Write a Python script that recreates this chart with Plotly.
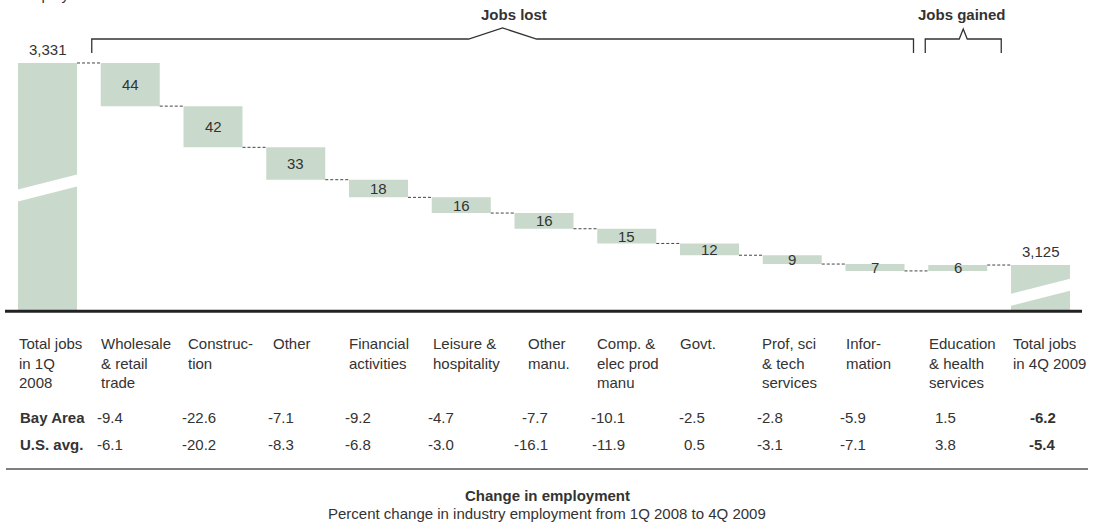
import plotly.graph_objects as go

# ---------------- data ----------------
categories = [
    "Total jobs<br>in 1Q<br>2008", "Wholesale<br>& retail<br>trade", "Construc-<br>tion", "Other",
    "Financial<br>activities", "Leisure &<br>hospitality", "Other<br>manu.", "Comp. &<br>elec prod<br>manu",
    "Govt.", "Prof, sci<br>& tech<br>services", "Infor-<br>mation", "Education<br>& health<br>services",
    "Total jobs<br>in 4Q 2009",
]
start_total = 3331
changes = [-44, -42, -33, -18, -16, -16, -15, -12, -9, -7, 6]
end_total = 3125
bay_area = [-9.4, -22.6, -7.1, -9.2, -4.7, -7.7, -10.1, -2.5, -2.8, -5.9, 1.5, -6.2]
us_avg = [-6.1, -20.2, -8.3, -6.8, -3.0, -16.1, -11.9, 0.5, -3.1, -7.1, 3.8, -5.4]
row_names = ["Bay Area", "U.S. avg."]
group_titles = ["Jobs lost", "Jobs gained"]
y_label = "Employment in thousands"
footer_title = "Change in employment"
footer_sub = "Percent change in industry employment from 1Q 2008 to 4Q 2009"

# ---------------- layout / style ----------------
W, H = 1094, 523
AXIS_BASE = 3078          # broken axis: bars start here
X0_PX, STEP_PX = 47.5, 82.75
XR = [(0 - X0_PX) / STEP_PX, (W - X0_PX) / STEP_PX]
YR = [2862.0, 3395.2]
BAR_W = 0.713
HW = BAR_W / 2
BAR_COLOR = "#C9DACC"
TXT = "#333333"
FONT = "Liberation Sans, Arial, sans-serif"
FS = 15
# small horizontal nudges (px) of table texts per column
label_shift_px = [-1, -2, 2, 5, -2, -1, 11, -2, -2, -3, -2, -1, 0]
value_shift_px = [-5, 5, 0, -6, -5, 6, 0, -3, -7, -7, 0, 17]


def xval(px):
    return XR[0] + px / W * (XR[1] - XR[0])


def ypx(v):
    return (YR[1] - v) / (YR[1] - YR[0]) * H


def yval(px):
    return YR[1] - px / H * (YR[1] - YR[0])


def dx(px):
    return px / STEP_PX


def py(px):
    return 1 - px / H


# levels
levels = [start_total]
for c in changes:
    levels.append(levels[-1] + c)

n = len(categories)
xs = list(range(n))
bases, heights = [], []
for i in range(n):
    if i == 0:
        bases.append(AXIS_BASE); heights.append(start_total - AXIS_BASE)
    elif i == n - 1:
        bases.append(AXIS_BASE); heights.append(end_total - AXIS_BASE)
    else:
        a, b = levels[i - 1], levels[i]
        bases.append(min(a, b)); heights.append(abs(b - a))

fig = go.Figure()
fig.add_trace(go.Bar(x=xs, y=heights, base=bases, width=BAR_W,
                     marker=dict(color=BAR_COLOR, line=dict(width=0)),
                     hoverinfo="skip", textposition="none"))

# connectors
cx, cy = [], []
for i in range(n - 1):
    lv = levels[i]
    cx += [i + HW, i + 1 - HW, None]
    cy += [lv, lv, None]
fig.add_trace(go.Scatter(x=cx, y=cy, mode="lines",
                         line=dict(color="#444444", width=1, dash="3px,2px"),
                         hoverinfo="skip"))

# axis-break stripes on total bars
for i, frac in [(0, 0.496), (n - 1, 0.41)]:
    top_px = ypx(bases[i] + heights[i]); bot_px = ypx(bases[i])
    c = bot_px - frac * (bot_px - top_px)
    e = 1.1
    rise = 7.5 * e
    x_l, x_r = i - HW * e, i + HW * e
    poly_x = [x_l, x_r, x_r, x_l, x_l]
    poly_px = [c - 6 + rise, c - 6 - rise, c + 6 - rise, c + 6 + rise, c - 6 + rise]
    fig.add_trace(go.Scatter(x=poly_x, y=[yval(p) for p in poly_px], mode="lines",
                             fill="toself", fillcolor="white", line=dict(width=0),
                             hoverinfo="skip"))

annotations = []
# bar value labels
for i in range(1, n - 1):
    annotations.append(dict(x=i, y=bases[i] + heights[i] / 2, xref="x", yref="y",
                            text=str(abs(changes[i - 1])), showarrow=False,
                            font=dict(size=FS, color=TXT, family=FONT)))
annotations.append(dict(x=0, y=start_total, xref="x", yref="y", text=f"{start_total:,}",
                        showarrow=False, yanchor="bottom", yshift=3,
                        font=dict(size=FS, color=TXT, family=FONT)))
annotations.append(dict(x=n - 1, y=end_total, xref="x", yref="y", text=f"{end_total:,}",
                        showarrow=False, yanchor="bottom", yshift=3,
                        font=dict(size=FS, color=TXT, family=FONT)))

# partially visible axis title at top-left (cut off by the top edge, as in the reference)
annotations.append(dict(x=xval(17), y=py(-6), xref="x", yref="paper", text=y_label,
                        showarrow=False, xanchor="left", yanchor="middle",
                        font=dict(size=FS, color=TXT, family=FONT)))

# brackets
shapes = []
brackets = [
    (1 - HW - dx(9), 10 + HW + dx(9), dx(34), 11, dx(11)),
    (11 - HW - dx(3), 11 + HW + dx(14), dx(4), 10, dx(-1)),
]
for (l, r, half, peak_h, text_off), title in zip(brackets, group_titles):
    m = (l + r) / 2
    path = (f"M {l},{yval(53)} L {l},{yval(39)} L {m - half},{yval(39)} "
            f"L {m},{yval(39 - peak_h)} L {m + half},{yval(39)} L {r},{yval(39)} L {r},{yval(53)}")
    shapes.append(dict(type="path", path=path, xref="x", yref="y",
                       line=dict(color="#333333", width=1.3)))
    annotations.append(dict(x=m + text_off, y=py(15), xref="x", yref="paper", text=f"<b>{title}</b>",
                            showarrow=False, yanchor="middle",
                            font=dict(size=FS, color=TXT, family=FONT)))

# baseline
shapes.append(dict(type="line", xref="paper", yref="y", x0=5 / W, x1=1082 / W,
                   y0=AXIS_BASE, y1=AXIS_BASE, line=dict(color="#222222", width=3)))

# table: category labels
for i, cat in enumerate(categories):
    annotations.append(dict(x=i - HW + dx(label_shift_px[i]), y=py(333), xref="x", yref="paper", text=cat,
                            showarrow=False, xanchor="left", yanchor="top", align="left",
                            font=dict(size=FS, color=TXT, family=FONT)))

# table: value rows
row_y = [417, 444]
for name, vals, ry in zip(row_names, [bay_area, us_avg], row_y):
    annotations.append(dict(x=xval(18), y=py(ry), xref="x", yref="paper", text=f"<b>{name}</b>",
                            showarrow=False, xanchor="left", yanchor="middle",
                            font=dict(size=FS, color=TXT, family=FONT)))
    for j, v in enumerate(vals):
        i = j + 1
        last = (i == n - 1)
        t = f"{v:.1f}"
        annotations.append(dict(x=i + dx(value_shift_px[j]), y=py(ry), xref="x", yref="paper",
                                text=f"<b>{t}</b>" if last else t,
                                showarrow=False, xanchor="right", yanchor="middle",
                                font=dict(size=FS, color=TXT, family=FONT)))

shapes.append(dict(type="line", xref="paper", yref="paper", x0=6 / W, x1=1088 / W,
                   y0=py(469), y1=py(469), line=dict(color="#7f7f7f", width=2)))

annotations.append(dict(x=0.5, y=py(495), xref="paper", yref="paper", text=f"<b>{footer_title}</b>",
                        showarrow=False, yanchor="middle", font=dict(size=15, color=TXT, family=FONT)))
annotations.append(dict(x=0.5, y=py(513), xref="paper", yref="paper", text=footer_sub,
                        showarrow=False, yanchor="middle", font=dict(size=15, color=TXT, family=FONT)))

fig.update_layout(
    width=W, height=H,
    margin=dict(l=0, r=0, t=0, b=0, pad=0),
    paper_bgcolor="white", plot_bgcolor="white",
    showlegend=False, barmode="overlay",
    xaxis=dict(range=XR, visible=False, fixedrange=True),
    yaxis=dict(range=YR, visible=False, fixedrange=True),
    annotations=annotations, shapes=shapes,
    font=dict(family=FONT, color=TXT),
)
fig.write_html("out.html")
